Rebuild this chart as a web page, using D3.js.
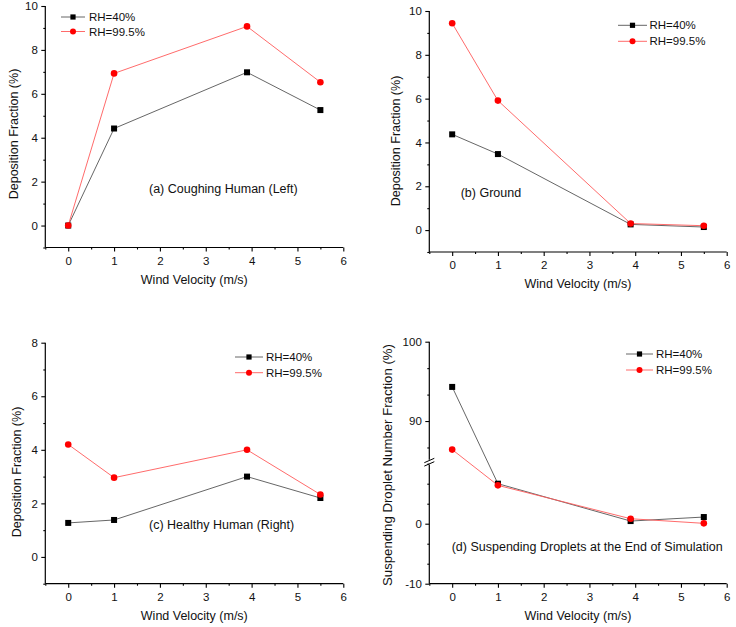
<!DOCTYPE html>
<html>
<head>
<meta charset="utf-8">
<script src="https://cdn.jsdelivr.net/npm/d3@7"></script>
<style>
  html, body { margin: 0; padding: 0; background: #fff; }
  svg { display: block; font-family: "Liberation Sans", Arial, sans-serif; }
</style>
</head>
<body>
<svg id="chart" width="736" height="627"></svg>
<script>
// ---- data ----
const windVelocity = [0, 1, 3.9, 5.5];
const seriesNames = ["RH=40%", "RH=99.5%"];
const coughRH40 = [0, 4.42, 6.98, 5.26];
const coughRH995 = [0, 6.93, 9.07, 6.53];
const groundRH40 = [4.37, 3.47, 0.26, 0.14];
const groundRH995 = [9.44, 5.91, 0.30, 0.20];
const healthyRH40 = [1.27, 1.38, 3.0, 2.2];
const healthyRH995 = [4.2, 2.96, 4.0, 2.33];
const suspendRH40 = [94.3, 6.67, 0.44, 1.11];
const suspendRH995 = [86.4, 6.39, 0.83, 0.06];
const xTicks = [0, 1, 2, 3, 4, 5, 6];
const xMinorTicks = [-0.5, 0.5, 1.5, 2.5, 3.5, 4.5, 5.5];
const yTicksDep10 = [0, 2, 4, 6, 8, 10];
const yMinorDep10 = [-1, 1, 3, 5, 7, 9];
const yTicksDep8 = [0, 2, 4, 6, 8];
const yMinorDep8 = [-1, 1, 3, 5, 7];
const yTicksSusp = [-10, 0, 90, 100];
const yMinorSusp = [-6.667, -3.333, 3.333, 6.667, 10, 86.667, 93.333, 96.667];

const svg = d3.select("#chart");
const BLACK_LINE = "#555";
const RED_LINE = "#ff5a5a";
const fmt = d => String(d);

function panel(cfg) {
  const x = d3.scaleLinear().domain([-0.5, 6]).range([cfg.x0, cfg.x1]);
  const y = d3.scaleLinear().domain(cfg.yDomain).range(cfg.yRange);
  const g = svg.append("g");
  const yBottom = y(cfg.yDomain[0]);
  const yTop = y(cfg.yDomain[cfg.yDomain.length - 1]);

  // x axis
  const xa = g.append("g").attr("transform", `translate(0,${yBottom})`)
    .call(d3.axisBottom(x).tickValues(xTicks).tickSize(4).tickPadding(5).tickFormat(fmt));
  xa.select(".domain").remove();
  g.append("g").attr("transform", `translate(0,${yBottom})`)
    .call(d3.axisBottom(x).tickValues(xMinorTicks).tickSize(2).tickFormat(""))
    .select(".domain").remove();

  // y axis
  const ya = g.append("g").attr("transform", `translate(${cfg.x0},0)`)
    .call(d3.axisLeft(y).tickValues(cfg.yTicks).tickSize(4).tickPadding(3.5).tickFormat(fmt));
  ya.select(".domain").remove();
  g.append("g").attr("transform", `translate(${cfg.x0},0)`)
    .call(d3.axisLeft(y).tickValues(cfg.yMinor).tickSize(2).tickFormat(""))
    .select(".domain").remove();

  g.selectAll(".tick line").attr("stroke", "#000").attr("stroke-width", 1.1);
  g.selectAll(".tick text").attr("font-size", 11.5).attr("fill", "#111")
    .attr("font-family", "Liberation Sans, Arial, sans-serif");

  // axis lines
  g.append("line").attr("x1", cfg.x0).attr("x2", cfg.x1).attr("y1", yBottom).attr("y2", yBottom)
    .attr("stroke", "#000").attr("stroke-width", 1.2);
  if (cfg.broken) {
    const yb = (y(10) + y(85)) / 2;
    g.append("line").attr("x1", cfg.x0).attr("x2", cfg.x0).attr("y1", yBottom).attr("y2", yb + 2.5)
      .attr("stroke", "#000").attr("stroke-width", 1.2);
    g.append("line").attr("x1", cfg.x0).attr("x2", cfg.x0).attr("y1", yb - 2.5).attr("y2", yTop)
      .attr("stroke", "#000").attr("stroke-width", 1.2);
    [-1.7, 1.7].forEach(o => {
      g.append("line").attr("x1", cfg.x0 - 5).attr("x2", cfg.x0 + 5)
        .attr("y1", yb + o + 2.2).attr("y2", yb + o - 2.2)
        .attr("stroke", "#000").attr("stroke-width", 1);
    });
  } else {
    g.append("line").attr("x1", cfg.x0).attr("x2", cfg.x0).attr("y1", yBottom).attr("y2", yTop)
      .attr("stroke", "#000").attr("stroke-width", 1.2);
  }

  // titles
  g.append("text").attr("x", (cfg.x0 + cfg.x1) / 2).attr("y", yBottom + 32)
    .attr("text-anchor", "middle").attr("dominant-baseline", "central")
    .attr("font-size", 12.5).attr("fill", "#111").text("Wind Velocity (m/s)");
  g.append("text").attr("transform", `translate(${cfg.ytx},${cfg.yty}) rotate(-90)`)
    .attr("text-anchor", "middle").attr("dominant-baseline", "central")
    .attr("font-size", cfg.ytSize || 12.5).attr("fill", "#111").text(cfg.yTitle);

  // annotation
  g.append("text").attr("x", cfg.ann[0]).attr("y", cfg.ann[1])
    .attr("dominant-baseline", "central").attr("font-size", 12.5).attr("fill", "#111").text(cfg.annText);

  // series
  const line = d3.line().x((d, i) => x(windVelocity[i])).y(d => y(d));
  g.append("path").datum(cfg.s1).attr("d", line).attr("fill", "none")
    .attr("stroke", BLACK_LINE).attr("stroke-width", 0.9);
  g.append("path").datum(cfg.s2).attr("d", line).attr("fill", "none")
    .attr("stroke", RED_LINE).attr("stroke-width", 0.9);
  g.selectAll(null).data(cfg.s1).enter().append("rect")
    .attr("x", (d, i) => x(windVelocity[i]) - 3).attr("y", d => y(d) - 3)
    .attr("width", 6).attr("height", 6).attr("fill", "#000");
  g.selectAll(null).data(cfg.s2).enter().append("circle")
    .attr("cx", (d, i) => x(windVelocity[i])).attr("cy", d => y(d))
    .attr("r", 3.3).attr("fill", "#ff0000");

  // legend
  const L = cfg.legend; // [xStart, xEnd, y1, y2, textX]
  const lg = g.append("g");
  [[L[2], BLACK_LINE], [L[3], RED_LINE]].forEach((r, k) => {
    lg.append("line").attr("x1", L[0]).attr("x2", L[1]).attr("y1", r[0]).attr("y2", r[0])
      .attr("stroke", r[1]).attr("stroke-width", 0.9);
    const cx = (L[0] + L[1]) / 2;
    if (k === 0) {
      lg.append("rect").attr("x", cx - 2.6).attr("y", r[0] - 2.6).attr("width", 5.2).attr("height", 5.2).attr("fill", "#000");
    } else {
      lg.append("circle").attr("cx", cx).attr("cy", r[0]).attr("r", 3).attr("fill", "#ff0000");
    }
    lg.append("text").attr("x", L[4]).attr("y", r[0]).attr("dominant-baseline", "central")
      .attr("font-size", 11.5).attr("fill", "#111").text(seriesNames[k]);
  });
}

panel({
  x0: 45.3, x1: 343.3, yDomain: [-1, 10], yRange: [247.5, 6],
  yTicks: yTicksDep10, yMinor: yMinorDep10,
  yTitle: "Deposition Fraction (%)", ytx: 13.5, yty: 134,
  ann: [149, 189], annText: "(a) Coughing Human (Left)",
  s1: coughRH40, s2: coughRH995, legend: [61, 85, 17, 31.5, 89]
});
panel({
  x0: 429.3, x1: 726.7, yDomain: [-1, 10], yRange: [252, 11],
  yTicks: yTicksDep10, yMinor: yMinorDep10,
  yTitle: "Deposition Fraction (%)", ytx: 396, yty: 141,
  ann: [460.7, 193.3], annText: "(b) Ground",
  s1: groundRH40, s2: groundRH995, legend: [618, 647, 25.3, 41.3, 649.5]
});
panel({
  x0: 45.3, x1: 343.3, yDomain: [-1, 8], yRange: [583.7, 342.7],
  yTicks: yTicksDep8, yMinor: yMinorDep8,
  yTitle: "Deposition Fraction (%)", ytx: 17, yty: 472,
  ann: [149, 525.3], annText: "(c) Healthy Human (Right)",
  s1: healthyRH40, s2: healthyRH995, legend: [235, 263, 357, 372.7, 266]
});
panel({
  x0: 429.3, x1: 726.7, yDomain: [-10, 10, 85, 100], yRange: [583.7, 463.7, 460.7, 341.7],
  yTicks: yTicksSusp, yMinor: yMinorSusp, broken: true,
  yTitle: "Suspending Droplet Number Fraction (%)", ytx: 387, yty: 465, ytSize: 13.2,
  ann: [451.7, 546.7], annText: "(d) Suspending Droplets at the End of Simulation",
  s1: suspendRH40, s2: suspendRH995, legend: [626, 653, 354, 370, 656]
});
</script>
</body>
</html>
